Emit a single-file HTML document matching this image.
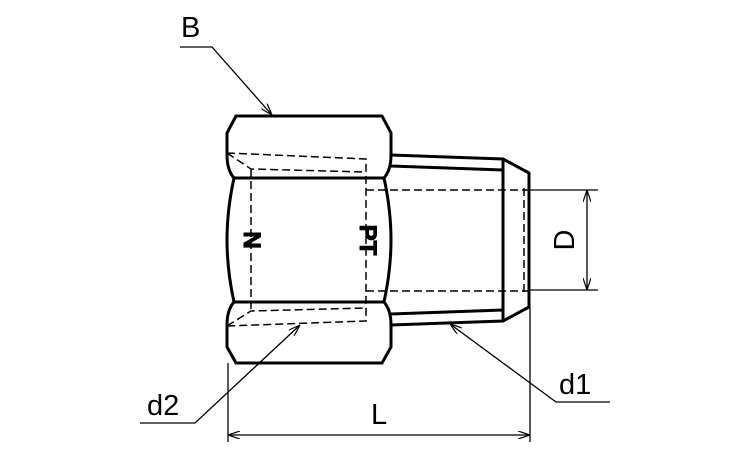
<!DOCTYPE html>
<html><head><meta charset="utf-8"><style>html,body{margin:0;padding:0;background:#fff}svg{display:block}</style></head><body>
<svg width="750" height="450" viewBox="0 0 750 450" xmlns="http://www.w3.org/2000/svg" font-family="Liberation Sans, sans-serif">
<defs>
<marker id="a" viewBox="0 0 12 8" refX="12" refY="4" markerWidth="12" markerHeight="8" markerUnits="userSpaceOnUse" orient="auto-start-reverse"><path d="M0,0 L12,4 L0,8" fill="none" stroke="#000" stroke-width="1.2"/></marker>
</defs>
<g fill="none" stroke="#000" stroke-width="3" stroke-linejoin="round">
<path d="M236,116 L382,116 L391,133 L391,155 Q391,170 384,178 Q391,210 391,240 Q391,270 384,302 Q391,310 391,325 L391,347 L382,363 L236,363 L227,347 L227,325 Q227,310 234,302 Q227,270 227,240 Q227,210 234,178 Q227,170 227,155 L227,133 Z"/>
<line x1="234" y1="178" x2="384" y2="178"/>
<line x1="234" y1="302" x2="384" y2="302"/>
<path d="M391,155 L503,159 L529,173 L529,307 L503,321 L391,325"/>
<line x1="391" y1="166" x2="503" y2="170"/>
<line x1="391" y1="314" x2="503" y2="310"/>
<line x1="503" y1="159" x2="503" y2="321"/>
</g>
<g fill="none" stroke="#000" stroke-width="1.5" stroke-dasharray="8,4">
<path d="M227,153 L366,159 L366,321 L227,326"/>
<path d="M227,153 L251,169 L366,172"/>
<path d="M227,326 L251,311 L366,308"/>
<line x1="251" y1="169" x2="251" y2="311"/>
<line x1="366" y1="190" x2="530" y2="190"/>
<line x1="366" y1="291" x2="530" y2="291"/>
<line x1="524" y1="188" x2="524" y2="293"/>
</g>
<g fill="none" stroke="#000" stroke-width="1.3">
<polyline points="180,47 212,47 272,115" marker-end="url(#a)"/>
<polyline points="140,423 195,423 300,325" marker-end="url(#a)"/>
<polyline points="610,402 556,402 450,324" marker-end="url(#a)"/>
<line x1="228" y1="363" x2="228" y2="442"/>
<line x1="530" y1="307" x2="530" y2="442"/>
<line x1="228" y1="435" x2="530" y2="435" marker-start="url(#a)" marker-end="url(#a)"/>
<line x1="530" y1="190" x2="598" y2="190"/>
<line x1="530" y1="290" x2="598" y2="290"/>
<line x1="587" y1="190" x2="587" y2="290" marker-start="url(#a)" marker-end="url(#a)"/>
</g>
<g fill="#000" font-size="29">
<text x="181" y="37">B</text>
<text x="147" y="415">d2</text>
<text x="559" y="394">d1</text>
<text x="371" y="424">L</text>
<text transform="translate(574,240) rotate(-90)" text-anchor="middle">D</text>
<text transform="translate(244,240) rotate(90)" text-anchor="middle" font-weight="bold" font-size="24" stroke="#000" stroke-width="1">N</text>
<text transform="translate(360,240) rotate(90)" text-anchor="middle" font-weight="bold" font-size="24" stroke="#000" stroke-width="1">PT</text>
</g>
</svg>
</body></html>
